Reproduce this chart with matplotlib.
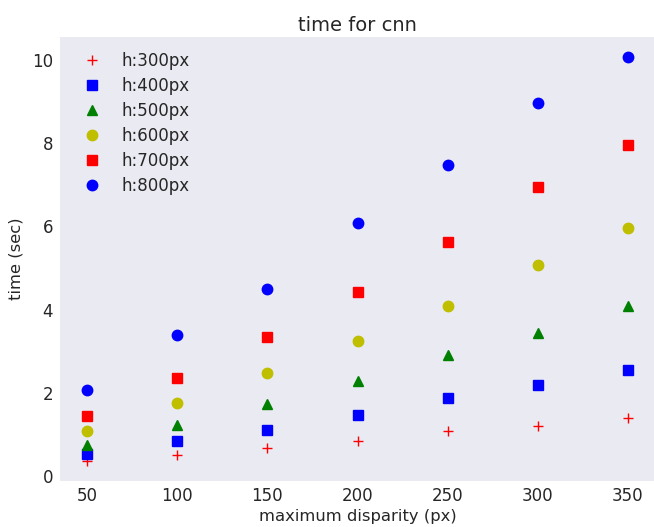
import numpy as np
import matplotlib
matplotlib.use("Agg")
import matplotlib.pyplot as plt

plt.style.use("seaborn-v0_8-dark")
plt.rcParams["font.family"] = ["DejaVu Sans"]
plt.rcParams["xtick.major.pad"] = 4.5
plt.rcParams["ytick.major.pad"] = 5

# maximum disparity values
disparity = [50, 100, 150, 200, 250, 300, 350]

# run time (sec) per image height
time_h300 = [0.36, 0.50, 0.67, 0.84, 1.08, 1.20, 1.39]
time_h400 = [0.53, 0.84, 1.11, 1.47, 1.88, 2.19, 2.55]
time_h500 = [0.75, 1.23, 1.73, 2.28, 2.91, 3.44, 4.09]
time_h600 = [1.08, 1.75, 2.48, 3.25, 4.09, 5.07, 5.96]
time_h700 = [1.44, 2.36, 3.34, 4.42, 5.63, 6.95, 7.96]
time_h800 = [2.07, 3.39, 4.50, 6.08, 7.48, 8.97, 10.07]

series = [
	(time_h300, "r+", "h:300px"),
	(time_h400, "bs", "h:400px"),
	(time_h500, "g^", "h:500px"),
	(time_h600, "yo", "h:600px"),
	(time_h700, "rs", "h:700px"),
	(time_h800, "bo", "h:800px"),
]

fig = plt.figure(figsize=(6.54, 5.27), dpi=100)
ax = fig.add_axes([60/654, 46/527, 595/654, 444/527])

for values, fmt, label in series:
	ax.plot(disparity, values, fmt, markersize=7.5, label=label)

ax.set_title("time for cnn", fontsize=14, pad=4)
ax.set_xlabel("maximum disparity (px)", fontsize=11.8, labelpad=3)
ax.set_ylabel("time (sec)", fontsize=11.8, labelpad=6)
ax.tick_params(labelsize=12)
ax.legend(loc="upper left", numpoints=1, fontsize=12, labelspacing=0.42)

fig.savefig("out.png", dpi=100)
